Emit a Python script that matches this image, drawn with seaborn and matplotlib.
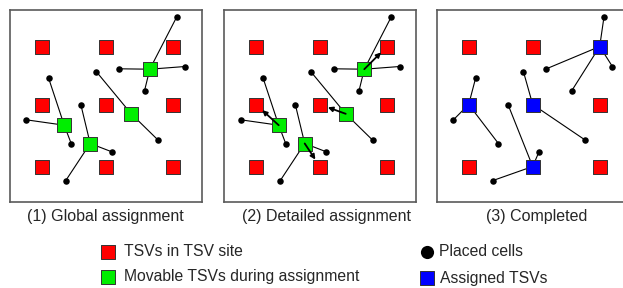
import pandas as pd
import seaborn as sns
import matplotlib as mpl
import matplotlib.pyplot as plt

sns.set_style("white")
mpl.rcParams["font.family"] = ["Liberation Sans", "DejaVu Sans"]

# TSV site grid (pixel units inside each panel box, y pointing down)
site_x = [32, 96, 163]
site_y = [37, 95, 157]

# movable TSVs during global assignment
green_x = [140.3, 121.7, 54.7, 80.7]
green_y = [59.7, 104.3, 115.7, 134.0]

# placed cells and the TSV each one is attached to
cell_x = [167.3, 109.7, 175.7, 135.0, 86.7, 148.7, 39.0, 16.7, 61.7, 71.3, 102.3, 56.3]
cell_y = [7.3, 59.3, 57.0, 81.3, 62.0, 130.7, 68.3, 110.3, 134.0, 95.0, 142.3, 171.0]
cell_tsv = [0, 0, 0, 0, 1, 1, 2, 2, 2, 3, 3, 3]

# site (column, row) each movable TSV ends up in
target_col = [2, 1, 0, 1]
target_row = [0, 1, 1, 2]

captions = ["(1) Global assignment", "(2) Detailed assignment", "(3) Completed"]
legend_labels = ["TSVs in TSV site", "Movable TSVs during assignment",
                 "Placed cells", "Assigned TSVs"]

RED, GREEN, BLUE = "#ff0000", "#00ee00", "#0000ff"

W, H = 623, 288
fig = plt.figure(figsize=(W / 100, H / 100), dpi=100)

sites = pd.DataFrame([(x, y) for y in site_y for x in site_x], columns=["x", "y"])
greens = pd.DataFrame({"x": green_x, "y": green_y})
cells = pd.DataFrame({"x": cell_x, "y": cell_y, "tsv": cell_tsv})
blues = pd.DataFrame({"x": [site_x[c] for c in target_col],
                      "y": [site_y[r] for r in target_row]})
blue_sites = set(zip(blues.x, blues.y))
red_final = sites[[(x, y) not in blue_sites for x, y in zip(sites.x, sites.y)]]


def wires(cells, hubs):
    rows = []
    for i, (x, y, t) in enumerate(zip(cells.x, cells.y, cells.tsv)):
        rows.append((i, x, y))
        rows.append((i, hubs.x[t], hubs.y[t]))
    return pd.DataFrame(rows, columns=["seg", "x", "y"])


def square(ax, df, color):
    sns.scatterplot(data=df, x="x", y="y", ax=ax, marker="s", s=92,
                    color=color, edgecolor="#333333", linewidth=0.7, zorder=3)


def panel(ax, stage):
    ax.set_xlim(0, 192)
    ax.set_ylim(192, 0)
    hubs = blues if stage == 3 else greens
    sns.lineplot(data=wires(cells, hubs), x="x", y="y", units="seg",
                 estimator=None, sort=False, color="black", lw=0.8, ax=ax, zorder=2)
    square(ax, red_final if stage == 3 else sites, RED)
    if stage == 3:
        square(ax, blues, BLUE)
    else:
        square(ax, greens, GREEN)
    sns.scatterplot(data=cells, x="x", y="y", ax=ax, color="black", s=22,
                    edgecolor="black", linewidth=0, zorder=4)
    if stage == 2:
        # detailed assignment: push each movable TSV to its site
        for i in range(len(greens)):
            ax.annotate("", xy=(blues.x[i], blues.y[i]),
                        xytext=(greens.x[i], greens.y[i]),
                        arrowprops=dict(arrowstyle="-|>", color="black", lw=1.3,
                                        mutation_scale=7, shrinkA=0, shrinkB=6),
                        zorder=5)
    ax.set_xticks([])
    ax.set_yticks([])
    ax.set_xlabel("")
    ax.set_ylabel("")
    for sp in ax.spines.values():
        sp.set_color("#5a5a5a")
        sp.set_linewidth(1.2)
    ax.patch.set_facecolor("white")


lefts = [9.5, 224, 436.7]
for k, left in enumerate(lefts):
    ax = fig.add_axes([left / W, (H - 201.5) / H, 192 / W, 192 / H])
    panel(ax, k + 1)

# overlay for captions and legend, in pixel coordinates
ov = fig.add_axes([0, 0, 1, 1], facecolor="none")
ov.set_xlim(0, W)
ov.set_ylim(H, 0)
ov.axis("off")

for cx, text in zip([105, 327, 537], captions):
    ov.text(cx, 217, text, ha="center", va="center", fontsize=11.5)

leg_sq = pd.DataFrame({"x": [108, 108, 427], "y": [252, 277, 278]})
for (x, y), c in zip(zip(leg_sq.x, leg_sq.y), [RED, GREEN, BLUE]):
    sns.scatterplot(x=[x], y=[y], ax=ov, marker="s", s=88, color=c,
                    edgecolor="#333333", linewidth=0.7)
sns.scatterplot(x=[427], y=[252], ax=ov, marker="o", s=90, color="black",
                linewidth=0)
for (x, y), text in zip([(124, 252), (124, 277), (439, 252), (440, 278)], legend_labels):
    ov.text(x, y, text, ha="left", va="center", fontsize=11.3)

fig.savefig("out.png", dpi=100)
